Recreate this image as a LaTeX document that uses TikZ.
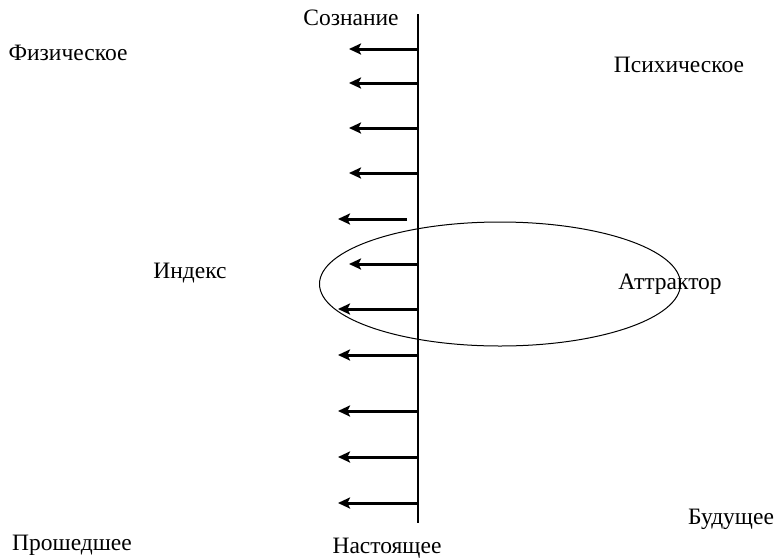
\documentclass[tikz,border=0pt]{standalone}
\usepackage{fontspec}
\setmainfont{Liberation Serif}
\usetikzlibrary{arrows.meta,shapes.geometric}
\begin{document}
\begin{tikzpicture}[x=1pt,y=-1pt,
  lbl/.style={font=\fontsize{23.5}{26}\selectfont, inner sep=0pt},
  flow/.style={line width=3pt, -{Stealth[length=12pt,width=11pt,inset=2.5pt]}},
  axis/.style={line width=1.2pt}]
\useasboundingbox (0,0) rectangle (777,558);
% axis
\coordinate (top) at (418,14);
\coordinate (bot) at (418,523);
\draw[axis] (top) -- (bot);
% ellipse
\node[draw, line width=1pt, ellipse, minimum width=361pt, minimum height=124pt, inner sep=0pt] (attr) at (500,284) {};
% arrows
\foreach \y/\t [count=\i] in {49/349,83/349,128/349,173/349,264/349,309/338,355/338,411/338,457/338,503/338}{
  \coordinate (s\i) at (418,\y);
  \coordinate (e\i) at (\t,\y);
  \draw[flow] (s\i) -- (e\i);
}
\coordinate (s0) at (407,219);
\coordinate (e0) at (338,219);
\draw[flow] (s0) -- (e0);
% labels
\node[lbl] (soz) at (351,18) {Сознание};
\node[lbl] (fiz) at (68,53) {Физическое};
\node[lbl] (psi) at (679,65) {Психическое};
\node[lbl] (ind) at (190,273) {Индекс};
\node[lbl] (att) at (670,284) {Аттрактор};
\node[lbl] (bud) at (731,519) {Будущее};
\node[lbl] (pro) at (72,545) {Прошедшее};
\node[lbl] (nas) at (387,548) {Настоящее};
\end{tikzpicture}
\end{document}
